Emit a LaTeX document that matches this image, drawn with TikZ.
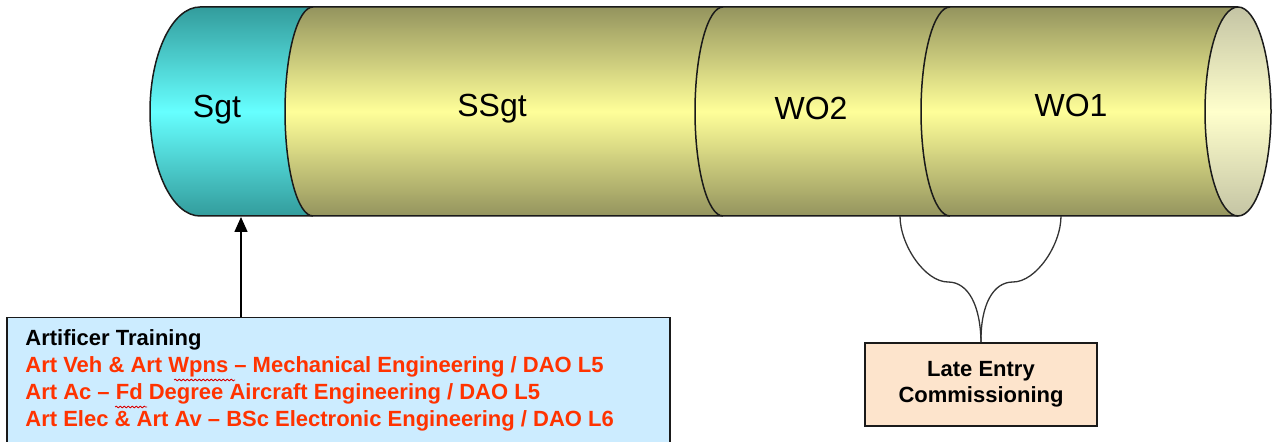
\documentclass[tikz,border=0pt]{standalone}
\usepackage{fontspec}
\setmainfont{Liberation Sans}
\usetikzlibrary{arrows.meta,decorations.pathmorphing}

\definecolor{tealedge}{HTML}{339C9C}
\definecolor{cyanmid}{HTML}{66FFFF}
\definecolor{oliveedge}{HTML}{94945E}
\definecolor{yellowmid}{HTML}{FFFF99}
\definecolor{faceedge}{HTML}{C4C4A4}
\definecolor{facemid}{HTML}{FFFFCC}
\definecolor{boxblue}{HTML}{CCECFF}
\definecolor{boxpeach}{HTML}{FDE4CC}
\definecolor{trainred}{HTML}{FF3300}
\definecolor{outline}{HTML}{1A1A1A}

\begin{document}
\begin{tikzpicture}[x=0.5pt, y=-0.5pt,
  rim/.style={draw=outline, line width=0.75pt},
  rank/.style={font=\fontsize{16}{18}\selectfont, anchor=base, inner sep=0pt},
  boxtext/.style={font=\fontsize{11}{13}\selectfont\bfseries, inner sep=0pt},
  trainline/.style={boxtext, anchor=base west, text=trainred},
  squiggle/.style={draw=red!85!black, line width=0.4pt,
    decorate, decoration={snake, amplitude=0.45pt, segment length=2pt}},
  bracket/.style={draw=black!80, line width=0.65pt}]

\useasboundingbox (0,0) rectangle (1274,442);

% cylinder body, olive to pale yellow
\shade[top color=oliveedge, bottom color=oliveedge, middle color=yellowmid]
  (200,7) -- (1238,7) -- (1238,216) -- (200,216)
  arc[start angle=270, end angle=90, x radius=25pt, y radius=52.25pt] -- cycle;

% Sgt band at the left end
\shade[top color=tealedge, bottom color=tealedge, middle color=cyanmid]
  (200,7) -- (313,7)
  arc[start angle=90, end angle=270, x radius=14pt, y radius=52.25pt]
  -- (200,216)
  arc[start angle=270, end angle=90, x radius=25pt, y radius=52.25pt] -- cycle;

% outline of the body
\draw[rim] (1238,7) -- (200,7)
  arc[start angle=90, end angle=270, x radius=25pt, y radius=52.25pt]
  -- (1238,216);

% rank boundaries
\foreach \bx/\brx in {313/14pt, 723/14pt, 950/14.5pt}
  \draw[rim] (\bx,7) arc[start angle=90, end angle=270, x radius=\brx, y radius=52.25pt];

% open end face
\shade[rim, top color=faceedge, bottom color=faceedge, middle color=facemid]
  (1238,111.5) ellipse [x radius=16.5pt, y radius=52.25pt];

% rank labels
\node[rank] (sgt)  at (217,118) {Sgt};
\node[rank] (ssgt) at (492,117) {SSgt};
\node[rank] (wo2)  at (811,120) {WO2};
\node[rank] (wo1)  at (1071,117) {WO1};

% points on the underside of the cylinder
\coordinate (sgtfoot) at (241,217);
\coordinate (wo2foot) at (900,216);
\coordinate (wo1foot) at (1061,216);

% artificer training box
\node[rim, fill=boxblue, anchor=north west, minimum width=331.5pt,
      minimum height=70pt, inner sep=0pt] (art) at (6,317) {};
\node[boxtext, anchor=base west] (arttitle) at (25,346) {Artificer Training};
\node[trainline] (artveh)  at (25,373) {Art Veh \& Art Wpns – Mechanical Engineering / DAO L5};
\node[trainline] (artac)   at (25,400) {Art Ac – Fd Degree Aircraft Engineering / DAO L5};
\node[trainline] (artelec) at (25,427) {Art Elec \& Art Av – BSc Electronic Engineering / DAO L6};

% spelling marks
\coordinate (wpnsa) at (174,380);
\coordinate (wpnsb) at (235,380);
\coordinate (fda) at (115,407);
\coordinate (fdb) at (147,407);
\path[squiggle] (wpnsa) -- (wpnsb);
\path[squiggle] (fda) -- (fdb);

\draw[line width=0.75pt, -{Triangle[width=6.5pt,length=7.5pt]}]
  (art.north -| sgtfoot) -- (sgtfoot);

% late entry box and its bracket
\node[rim, fill=boxpeach, minimum width=116pt, minimum height=41.5pt,
      align=center, boxtext] (late) at (981,384.5) {Late Entry\\Commissioning};

\draw[bracket] (wo2foot) .. controls (900,245) and (925,282) .. (948,282)
  .. controls (968,282) and (980.5,305) .. (late.north);
\draw[bracket] (wo1foot) .. controls (1061,245) and (1036,282) .. (1013,282)
  .. controls (993,282) and (980.5,305) .. (late.north);

\end{tikzpicture}
\end{document}
